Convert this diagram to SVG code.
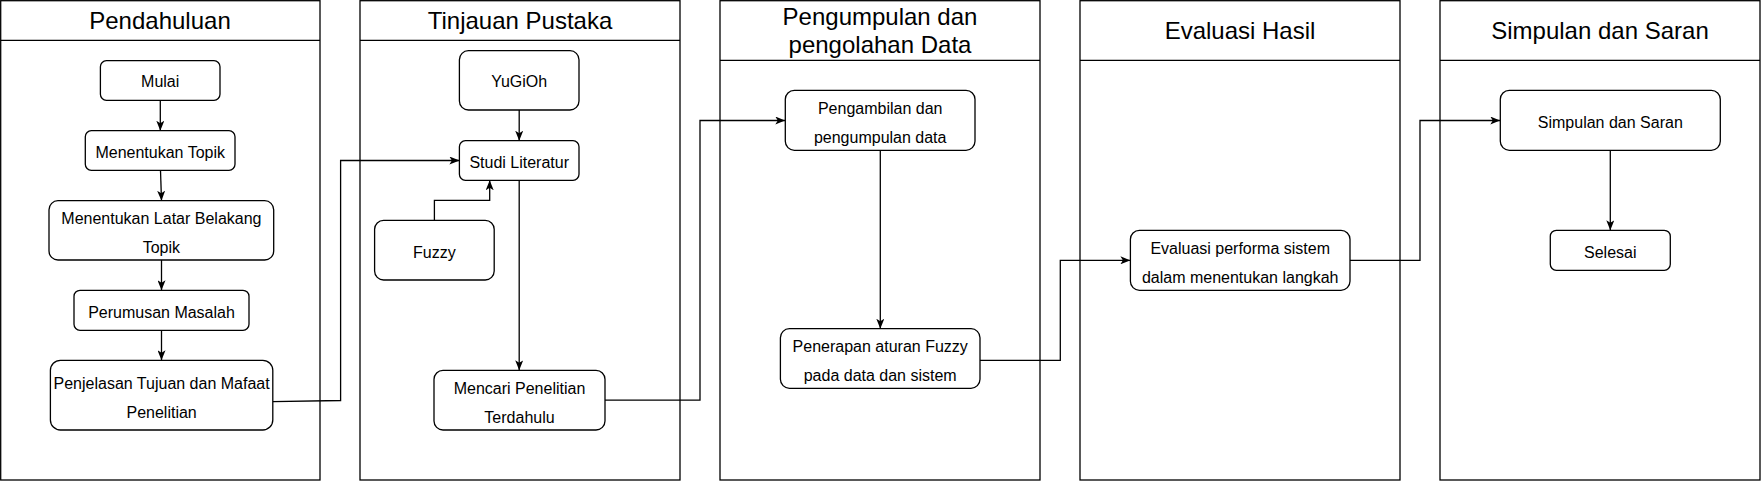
<svg xmlns="http://www.w3.org/2000/svg" width="1761" height="481" viewBox="0 0 1761 481">
<style>
.lane{fill:#fff;stroke:#000;stroke-width:1.3}
.hd{stroke:#000;stroke-width:1.3}
.node{fill:#fff;stroke:#000;stroke-width:1.3}
.t{font-family:"Liberation Sans",Arial,sans-serif;font-size:16px;fill:#000;text-anchor:middle}
.ti{font-family:"Liberation Sans",Arial,sans-serif;font-size:24px;fill:#000;text-anchor:middle}
.c{fill:none;stroke:#000;stroke-width:1.3;marker-end:url(#arr)}
</style>
<defs>
<marker id="arr" markerUnits="userSpaceOnUse" viewBox="0 0 10 8" markerWidth="10" markerHeight="8" refX="10" refY="4" orient="auto">
<path d="M0,0 L10,4 L0,8 L2.5,4 z" fill="#000"/>
</marker>
</defs>
<rect width="1761" height="481" fill="#fff"/>
<g id="lanes">
<g id="lane-pendahuluan"><rect class="lane" x="0.7" y="0.7" width="319.3" height="479.3"/><line class="hd" x1="0.7" y1="40.3" x2="320" y2="40.3"/><text class="ti" x="160" y="28.5">Pendahuluan</text></g>
<g id="lane-tinjauan"><rect class="lane" x="360" y="0.7" width="320" height="479.3"/><line class="hd" x1="360" y1="40.3" x2="680" y2="40.3"/><text class="ti" x="520" y="28.5">Tinjauan Pustaka</text></g>
<g id="lane-pengumpulan"><rect class="lane" x="720" y="0.7" width="320" height="479.3"/><line class="hd" x1="720" y1="60.3" x2="1040" y2="60.3"/><text class="ti" x="880" y="24.5">Pengumpulan dan</text><text class="ti" x="880" y="53.3">pengolahan Data</text></g>
<g id="lane-evaluasi"><rect class="lane" x="1080" y="0.7" width="320" height="479.3"/><line class="hd" x1="1080" y1="60.3" x2="1400" y2="60.3"/><text class="ti" x="1240" y="38.5">Evaluasi Hasil</text></g>
<g id="lane-simpulan"><rect class="lane" x="1440" y="0.7" width="320" height="479.3"/><line class="hd" x1="1440" y1="60.3" x2="1760" y2="60.3"/><text class="ti" x="1600" y="38.5">Simpulan dan Saran</text></g>
</g>
<g id="connectors">
<path class="c" d="M160.3,100.3 L160.3,130.7"/>
<path class="c" d="M160.5,170.3 L161.5,200.7"/>
<path class="c" d="M161.5,260 L161.5,290.3"/>
<path class="c" d="M161.5,330.3 L161.5,360.3"/>
<path class="c" d="M272.8,401.7 L340.6,400.5 L340.6,160.5 L459.4,160.5"/>
<path class="c" d="M519.2,110 L519.2,140.7"/>
<path class="c" d="M434.4,220.3 L434.4,200.3 L489.7,200.3 L489.7,180.3"/>
<path class="c" d="M519.2,180.3 L519.2,370.3"/>
<path class="c" d="M605,400.2 L700,400.2 L700,120.5 L785.3,120.5"/>
<path class="c" d="M880.3,150.3 L880.3,328.7"/>
<path class="c" d="M980,360.3 L1060.3,360.3 L1060.3,260.3 L1130.4,260.3"/>
<path class="c" d="M1350,260.3 L1420,260.3 L1420,120.5 L1500.3,120.5"/>
<path class="c" d="M1610.3,150.3 L1610.3,230.3"/>
</g>
<g id="n-mulai"><rect class="node" x="100.4" y="60.7" width="119.6" height="39.6" rx="6"/><text class="t" x="160.2" y="87.4">Mulai</text></g>
<g id="n-topik"><rect class="node" x="85.3" y="130.7" width="149.7" height="39.6" rx="6"/><text class="t" x="160.2" y="158">Menentukan Topik</text></g>
<g id="n-latar"><rect class="node" x="49" y="200.7" width="224.7" height="59.3" rx="9"/><text class="t" x="161.4" y="224.4">Menentukan Latar Belakang</text><text class="t" x="161.4" y="253">Topik</text></g>
<g id="n-perumusan"><rect class="node" x="74" y="290.3" width="175" height="40" rx="6"/><text class="t" x="161.5" y="318">Perumusan Masalah</text></g>
<g id="n-penjelasan"><rect class="node" x="50.4" y="360.3" width="222.4" height="69.7" rx="10"/><text class="t" x="161.6" y="389">Penjelasan Tujuan dan Mafaat</text><text class="t" x="161.6" y="418">Penelitian</text></g>
<g id="n-yugioh"><rect class="node" x="459.4" y="50.7" width="119.6" height="59.3" rx="9"/><text class="t" x="519.2" y="87.4">YuGiOh</text></g>
<g id="n-studi"><rect class="node" x="459.4" y="140.7" width="119.6" height="39.6" rx="6"/><text class="t" x="519.2" y="168">Studi Literatur</text></g>
<g id="n-fuzzy"><rect class="node" x="374.6" y="220.3" width="119.6" height="59.7" rx="9"/><text class="t" x="434.4" y="258">Fuzzy</text></g>
<g id="n-mencari"><rect class="node" x="434" y="370.3" width="171" height="59.7" rx="9"/><text class="t" x="519.5" y="394">Mencari Penelitian</text><text class="t" x="519.5" y="422.5">Terdahulu</text></g>
<g id="n-pengambilan"><rect class="node" x="785.3" y="90.3" width="189.7" height="60" rx="9"/><text class="t" x="880.2" y="114">Pengambilan dan</text><text class="t" x="880.2" y="142.7">pengumpulan data</text></g>
<g id="n-penerapan"><rect class="node" x="780.4" y="328.7" width="199.6" height="59.6" rx="9"/><text class="t" x="880.2" y="352.4">Penerapan aturan Fuzzy</text><text class="t" x="880.2" y="380.8">pada data dan sistem</text></g>
<g id="n-evaluasi"><rect class="node" x="1130.4" y="230.3" width="219.6" height="60" rx="9"/><text class="t" x="1240.2" y="254">Evaluasi performa sistem</text><text class="t" x="1240.2" y="282.7">dalam menentukan langkah</text></g>
<g id="n-simpulan"><rect class="node" x="1500.3" y="90.3" width="220" height="60" rx="9"/><text class="t" x="1610.3" y="128">Simpulan dan Saran</text></g>
<g id="n-selesai"><rect class="node" x="1550.3" y="230.3" width="120" height="40" rx="6"/><text class="t" x="1610.3" y="258">Selesai</text></g>
</svg>
